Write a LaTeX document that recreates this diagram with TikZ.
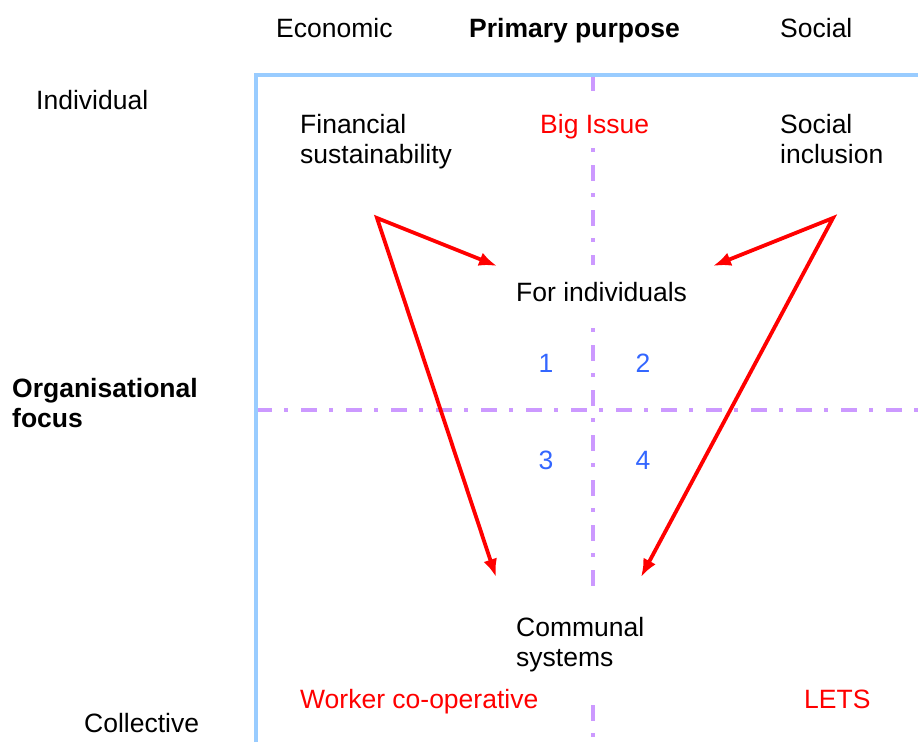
\documentclass[tikz,border=0pt]{standalone}
\usepackage{fontspec}
\setmainfont{Liberation Sans}
\usetikzlibrary{arrows.meta}
\definecolor{frameblue}{HTML}{99CCFF}
\definecolor{gridlilac}{HTML}{CC99FF}
\definecolor{quadblue}{HTML}{3366FF}
\begin{document}
\begin{tikzpicture}[x=1pt, y=-1pt,
	lbl/.style={font=\fontsize{26.5}{30}\selectfont, inner sep=0pt, align=left},
	head/.style={lbl, font=\fontsize{26.5}{30}\selectfont\bfseries},
	example/.style={lbl, text=red},
	quad/.style={lbl, anchor=base, text=quadblue},
	cover/.style={fill=white},
	frame/.style={draw=frameblue, line width=4.5pt},
	grid/.style={draw=gridlilac, line width=4pt, dash pattern=on 16pt off 12pt on 4pt off 13pt},
	push/.style={draw=red, line width=3.8pt, {Latex[length=18pt,width=14pt]}-{Latex[length=18pt,width=14pt]}}]
				
				\useasboundingbox (0,0) rectangle (918,742);
				
				\draw[grid] (593,75) -- (593,742);
				
				\draw[grid] (256,410) -- (918,410);
				
				\draw[frame] (256,742) -- (256,75) -- (918,75);
				
				\node[lbl, anchor=base west] (eco) at (276,37) {Economic};
				
				\node[head, anchor=base west] (purpose) at (469,37) {Primary purpose};
				
				\node[lbl, anchor=base west] (soc) at (780,37) {Social};
				
				\node[lbl, anchor=base west] (indiv) at (36,109) {Individual};
				
				\node[head, anchor=north west] (focus) at (12,378) {Organisational\\focus};
				
				\node[lbl, anchor=base west] (collect) at (84,732) {Collective};
				
				\node[lbl, anchor=north west] (fin) at (300,114) {Financial\\sustainability};
				
				\node[example, cover, anchor=base west, text height=41pt, text depth=14pt] (bigissue) at (540,133) {Big Issue};
				
				\node[lbl, anchor=north west] (socinc) at (780,114) {Social\\inclusion};
				
				\node[lbl, cover, anchor=base west, text height=36pt, text depth=21pt] (forind) at (516,301) {For individuals};
				
				\node[quad] (q1) at (546,372) {1};
				\node[quad] (q2) at (643,372) {2};
				\node[quad] (q3) at (546,469) {3};
				\node[quad] (q4) at (643,469) {4};
				
				\node[lbl, cover, anchor=north west, inner ysep=27pt] (communal) at (516,590) {Communal\\systems};
				
				\node[example, anchor=base west] (worker) at (300,708) {Worker co-operative};
				
				\node[example, anchor=base west] (lets) at (804,708) {LETS};
				
				\coordinate (finsrc) at (377,218);
				\coordinate (socsrc) at (833,218);
				\coordinate (indleft) at (497,266);
				\coordinate (indright) at (713,266);
				\coordinate (comleft) at (496,577);
				\coordinate (comright) at (641,577);
				
				\draw[push] (indleft) -- (finsrc) -- (comleft);
				
				\draw[push] (indright) -- (socsrc) -- (comright);
				
\end{tikzpicture}
\end{document}
